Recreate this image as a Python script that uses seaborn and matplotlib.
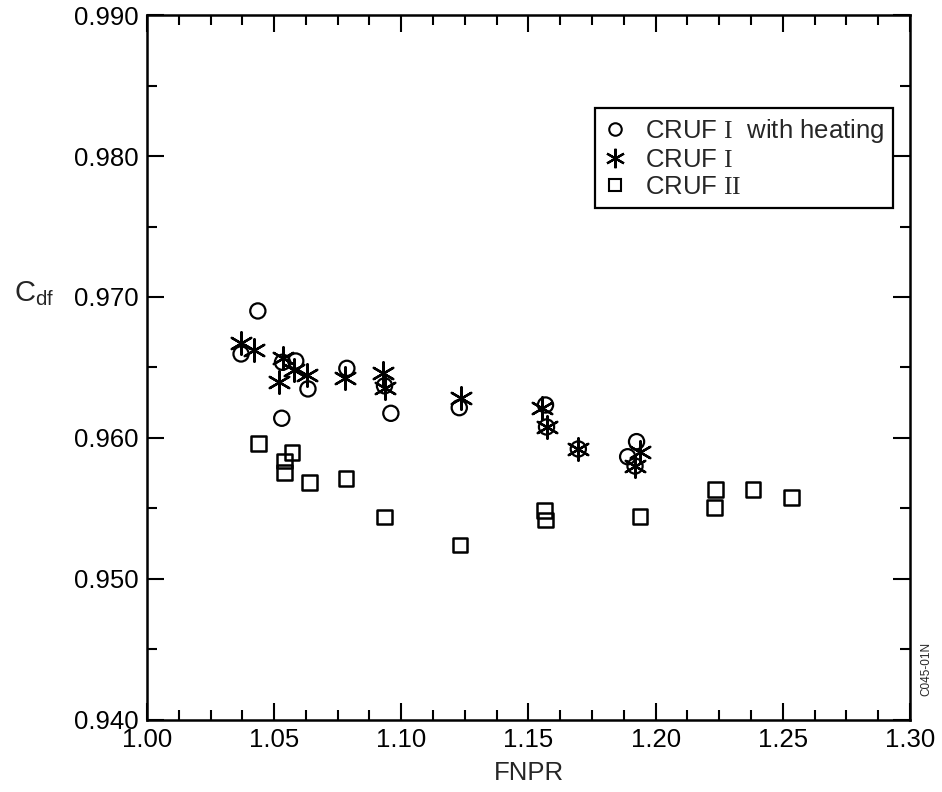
import matplotlib
matplotlib.use("Agg")
import matplotlib.pyplot as plt
import seaborn as sns
from matplotlib.ticker import MultipleLocator, FormatStrFormatter
from matplotlib.lines import Line2D

# CRUF I with heating
heat_fnpr = [1.0370, 1.0436, 1.0533, 1.0585, 1.0633, 1.0786, 1.0934, 1.0530,
             1.0959, 1.1228, 1.1567, 1.1571, 1.1696, 1.1925, 1.1890, 1.1919]
heat_cdf = [0.96596, 0.96901, 0.96537, 0.96546, 0.96348, 0.96494, 0.96370, 0.96140,
            0.96175, 0.96215, 0.96234, 0.96078, 0.95922, 0.95974, 0.95867, 0.95801]

# CRUF I
cruf1_fnpr = [1.0370, 1.0419, 1.0533, 1.0579, 1.0631, 1.0520, 1.0780, 1.0930,
              1.0934, 1.1235, 1.1554, 1.1571, 1.1696, 1.1937, 1.1919]
cruf1_cdf = [0.96672, 0.96624, 0.96565, 0.96482, 0.96447, 0.96399, 0.96423, 0.96463,
             0.96352, 0.96282, 0.96211, 0.96078, 0.95922, 0.95904, 0.95801]

# CRUF II
cruf2_fnpr = [1.0439, 1.0570, 1.0541, 1.0541, 1.0638, 1.0783, 1.0934, 1.1230,
              1.1563, 1.1567, 1.1938, 1.2236, 1.2232, 1.2383, 1.2534]
cruf2_cdf = [0.95962, 0.95896, 0.95837, 0.95754, 0.95683, 0.95714, 0.95438, 0.95240,
             0.95484, 0.95418, 0.95442, 0.95636, 0.95506, 0.95636, 0.95577]

series_labels = [r"CRUF $\mathrm{I}$  with heating", r"CRUF $\mathrm{I}$", r"CRUF $\mathrm{II}$"]

sns.set_style("ticks")
plt.rcParams["font.family"] = ["Liberation Sans", "DejaVu Sans"]
plt.rcParams["mathtext.fontset"] = "custom"
plt.rcParams["mathtext.rm"] = "Liberation Serif"
plt.rcParams["mathtext.sf"] = "Liberation Sans"
plt.rcParams["mathtext.it"] = "Liberation Sans:italic"

fig = plt.figure(figsize=(9.42, 7.92), dpi=100)
ax = fig.add_axes([0.156, 0.091, 0.810, 0.890])

asterisk = (6, 2, 0)

sns.scatterplot(x=heat_fnpr, y=heat_cdf, ax=ax, marker="o", s=120,
                facecolor="none", edgecolor="black", linewidth=1.6, zorder=3)
sns.scatterplot(x=cruf1_fnpr, y=cruf1_cdf, ax=ax, marker=asterisk, s=260,
                color="black", linewidth=1.7, zorder=4)
sns.scatterplot(x=cruf2_fnpr, y=cruf2_cdf, ax=ax, marker="s", s=110,
                facecolor="none", edgecolor="black", linewidth=1.8, zorder=3)

ax.set_xlim(1.00, 1.30)
ax.set_ylim(0.940, 0.990)
ax.xaxis.set_major_locator(MultipleLocator(0.05))
ax.xaxis.set_minor_locator(MultipleLocator(0.0125))
ax.yaxis.set_major_locator(MultipleLocator(0.010))
ax.yaxis.set_minor_locator(MultipleLocator(0.005))
ax.xaxis.set_major_formatter(FormatStrFormatter("%.2f"))
ax.yaxis.set_major_formatter(FormatStrFormatter("%.3f"))

ax.tick_params(which="both", direction="in", top=True, right=True,
               width=1.5, colors="black", labelsize=18.5, pad=6)
ax.tick_params(which="major", length=12)
ax.tick_params(which="minor", length=7)
for sp in ax.spines.values():
    sp.set_linewidth(1.8)
    sp.set_color("black")

ax.set_xlabel("FNPR", fontsize=18.5, labelpad=6)
ax.set_ylabel(r"C$_{\mathsf{df}}$", fontsize=21, rotation=0, labelpad=22)
ax.yaxis.set_label_coords(-0.148, 0.585)

handles = [
    Line2D([], [], linestyle="none", marker="o", markersize=9,
           markerfacecolor="none", markeredgecolor="black", markeredgewidth=1.5),
    Line2D([], [], linestyle="none", marker=asterisk, markersize=14,
           color="black", markeredgewidth=1.6),
    Line2D([], [], linestyle="none", marker="s", markersize=9,
           markerfacecolor="none", markeredgecolor="black", markeredgewidth=1.5),
]
leg = ax.legend(handles, series_labels, loc="upper left",
                bbox_to_anchor=(0.587, 0.868), fontsize=18.5, frameon=True,
                fancybox=False, edgecolor="black", framealpha=1,
                handlelength=0.9, handletextpad=0.7, borderpad=0.35,
                labelspacing=0.12, borderaxespad=0)
leg.get_frame().set_linewidth(1.6)

fig.text(0.983, 0.155, "C045-01N", rotation=90, fontsize=8.5,
         ha="center", va="center")

fig.savefig("out.png", dpi=100, facecolor="white")
